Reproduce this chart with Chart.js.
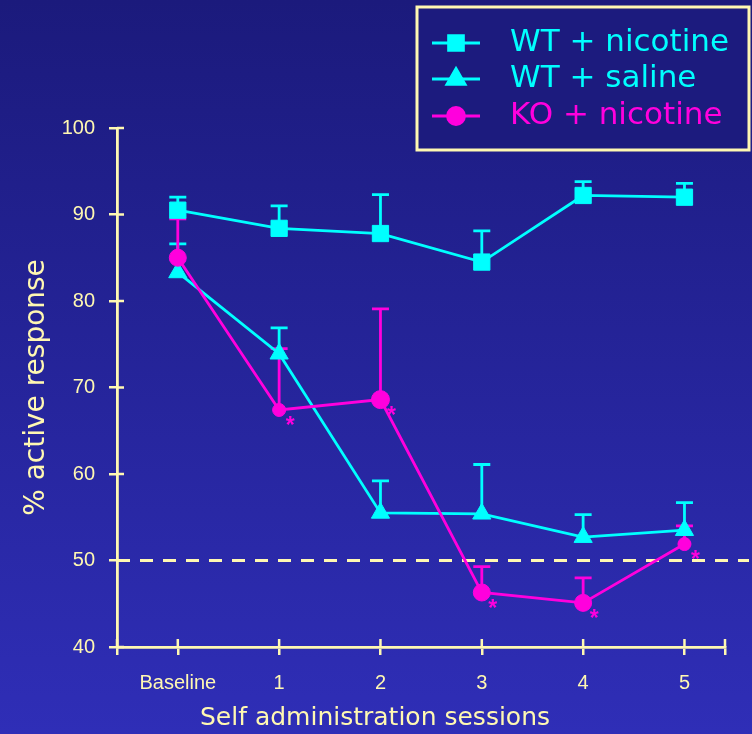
<!DOCTYPE html>
<html>
<head>
<meta charset="utf-8">
<script src="https://cdn.jsdelivr.net/npm/chart.js@4"></script>
<style>
  html, body { margin: 0; padding: 0; }
  body { width: 752px; height: 734px; overflow: hidden;
         background: linear-gradient(to bottom, #1b1a7c 0%, #2f2eb7 100%); }
  #wrap { position: relative; width: 752px; height: 734px; }
</style>
</head>
<body>
<div id="wrap"><canvas id="sessionsChart"></canvas></div>
<script>
const sessions = ['Baseline', '1', '2', '3', '4', '5'];

// mean % active response per session
const wtNicotine = [90.5, 88.4, 87.8, 84.5, 92.2, 92.0];
const wtSaline = [83.3, 73.9, 55.5, 55.4, 52.7, 53.5];
const koNicotine = [85.0, 67.4, 68.6, 46.3, 45.1, 51.9];

// upper error bars (SEM)
const wtNicotineErr = [1.5, 2.6, 4.5, 3.6, 1.6, 1.6];
const wtSalineErr = [3.3, 3.0, 3.7, 5.7, 2.6, 3.2];
const koNicotineErr = [4.5, 7.1, 10.5, 3.0, 2.9, 2.1];

// * = significant vs WT
const koSignificant = [false, true, true, true, true, true];
const chanceLevel = 50;

const yTitle = '% active response';
const xTitle = 'Self administration sessions';

const cream = '#FFF8B2';
const cyan = '#00FFFF';
const magenta = '#FF00DD';
const comic = 'DejaVu Sans';

const toPoints = arr => arr.map((v, i) => ({ x: i, y: v }));
const errorsByLabel = {
    'WT + nicotine': wtNicotineErr,
    'WT + saline': wtSalineErr,
    'KO + nicotine': koNicotineErr
};

const data = {
    datasets: [{
        label: 'WT + nicotine',
        data: toPoints(wtNicotine),
        borderColor: cyan,
        backgroundColor: cyan,
        pointStyle: 'rect',
        pointRadius: 11.5,
        order: 2
    },
    {
        label: 'WT + saline',
        data: toPoints(wtSaline),
        borderColor: cyan,
        backgroundColor: cyan,
        pointStyle: 'triangle',
        pointRadius: 10.5,
        order: 1
    },
    {
        label: 'KO + nicotine',
        data: toPoints(koNicotine),
        borderColor: magenta,
        backgroundColor: magenta,
        pointStyle: 'circle',
        pointRadius: [8.5, 6.5, 9, 8.5, 8.5, 6.5],
        order: 0
    }]
};

// error bars, only the upper half like the original slide
const errorBars = {
    id: 'errorBars',
    beforeDatasetsDraw(chart) {
        const { ctx, scales: { x, y } } = chart;
        ctx.save();
        // chance line
        const y50 = y.getPixelForValue(chanceLevel);
        ctx.strokeStyle = cream;
        ctx.lineWidth = 3.2;
        ctx.setLineDash([13, 10]);
        ctx.beginPath();
        ctx.moveTo(chart.chartArea.left, y50);
        ctx.lineTo(chart.width - 3, y50);
        ctx.stroke();
        ctx.setLineDash([]);

        chart.data.datasets.forEach(ds => {
            const errs = errorsByLabel[ds.label];
            ctx.strokeStyle = ds.borderColor;
            ctx.lineWidth = 2.8;
            ds.data.forEach((p, j) => {
                const px = x.getPixelForValue(p.x);
                const y0 = y.getPixelForValue(p.y);
                const y1 = y.getPixelForValue(p.y + errs[j]);
                ctx.beginPath();
                ctx.moveTo(px, y0);
                ctx.lineTo(px, y1);
                ctx.moveTo(px - 8.5, y1);
                ctx.lineTo(px + 8.5, y1);
                ctx.stroke();
            });
        });
        ctx.restore();
    },
    afterDatasetsDraw(chart) {
        const { ctx, scales: { x, y } } = chart;
        ctx.save();
        ctx.fillStyle = magenta;
        ctx.font = 'bold 23px "Liberation Sans"';
        ctx.textAlign = 'center';
        ctx.textBaseline = 'alphabetic';
        koNicotine.forEach((v, j) => {
            if (!koSignificant[j]) return;
            ctx.fillText('*', x.getPixelForValue(j) + 11, y.getPixelForValue(v) + 23);
        });
        ctx.restore();
    }
};

// ticks crossing the axes, x title, boxed legend
const decorations = {
    id: 'decorations',
    afterDraw(chart) {
        const { ctx, scales: { x, y }, chartArea } = chart;
        ctx.save();
        ctx.strokeStyle = cream;
        ctx.lineWidth = 2.5;
        ctx.beginPath();
        y.ticks.forEach(t => {
            const py = y.getPixelForValue(t.value);
            ctx.moveTo(chartArea.left, py);
            ctx.lineTo(chartArea.left + 7, py);
        });
        x.ticks.forEach(t => {
            const px = x.getPixelForValue(t.value);
            ctx.moveTo(px, chartArea.bottom);
            ctx.lineTo(px, chartArea.bottom - 8);
        });
        ctx.stroke();

        ctx.fillStyle = cream;
        ctx.font = '25px "' + comic + '"';
        ctx.textAlign = 'center';
        ctx.textBaseline = 'middle';
        ctx.fillText(xTitle, 375, 718);

        // legend box
        ctx.fillStyle = '#1c1b7e';
        ctx.fillRect(417, 7, 332, 143);
        ctx.lineWidth = 3;
        ctx.strokeRect(417, 7, 332, 143);
        const rows = [43, 79, 116];
        const legendRadius = [10.5, 10.5, 8.5];
        chart.data.datasets.forEach((ds, i) => {
            const ly = rows[i];
            ctx.strokeStyle = ds.borderColor;
            ctx.fillStyle = ds.backgroundColor;
            ctx.lineWidth = 2.8;
            ctx.beginPath();
            ctx.moveTo(432, ly);
            ctx.lineTo(480, ly);
            ctx.stroke();
            Chart.helpers.drawPoint(ctx, {
                pointStyle: ds.pointStyle, rotation: 0,
                radius: legendRadius[i], borderWidth: 1
            }, 456, ly);
            ctx.font = '31px "' + comic + '"';
            ctx.textAlign = 'left';
            ctx.textBaseline = 'middle';
            ctx.fillText(ds.label, 510, ly);
        });
        ctx.restore();
    }
};

const config = {
    type: 'line',
    data: data,
    options: {
        responsive: true,
        maintainAspectRatio: false,
        animation: false,
        layout: { padding: { top: 128, right: 27, left: 0, bottom: 0 } },
        elements: {
            line: { borderWidth: 2.8, tension: 0 },
            point: { borderWidth: 1 }
        },
        plugins: {
            legend: { display: false },
            tooltip: { enabled: false }
        },
        scales: {
            x: {
                type: 'linear',
                min: -0.6,
                max: 5.4,
                afterBuildTicks: s => { s.ticks = [-0.6, 0, 1, 2, 3, 4, 5, 5.4].map(v => ({ value: v })); },
                afterFit: s => { s.height = 87; },
                border: { color: cream, width: 2.8 },
                grid: { drawOnChartArea: false, color: cream, lineWidth: 2.5, tickLength: 8 },
                ticks: {
                    color: cream,
                    font: { family: 'Liberation Sans', size: 20 },
                    padding: 16,
                    autoSkip: false,
                    maxRotation: 0,
                    callback: v => (Number.isInteger(v) && sessions[v] !== undefined) ? sessions[v] : ''
                }
            },
            y: {
                min: 40,
                max: 100,
                afterFit: s => { s.width = 117; },
                border: { color: cream, width: 2.8 },
                grid: { drawOnChartArea: false, color: cream, lineWidth: 2.5, tickLength: 8 },
                ticks: {
                    stepSize: 10,
                    color: cream,
                    font: { family: 'Liberation Sans', size: 20 },
                    padding: 14
                },
                title: {
                    display: true,
                    text: yTitle,
                    color: cream,
                    font: { family: comic, size: 28 },
                    padding: { top: 20, bottom: 0 }
                }
            }
        }
    },
    plugins: [errorBars, decorations]
};

const ctxSessions = document.getElementById('sessionsChart').getContext('2d');
var sessionsChart = new Chart(ctxSessions, config);
</script>
</body>
</html>
